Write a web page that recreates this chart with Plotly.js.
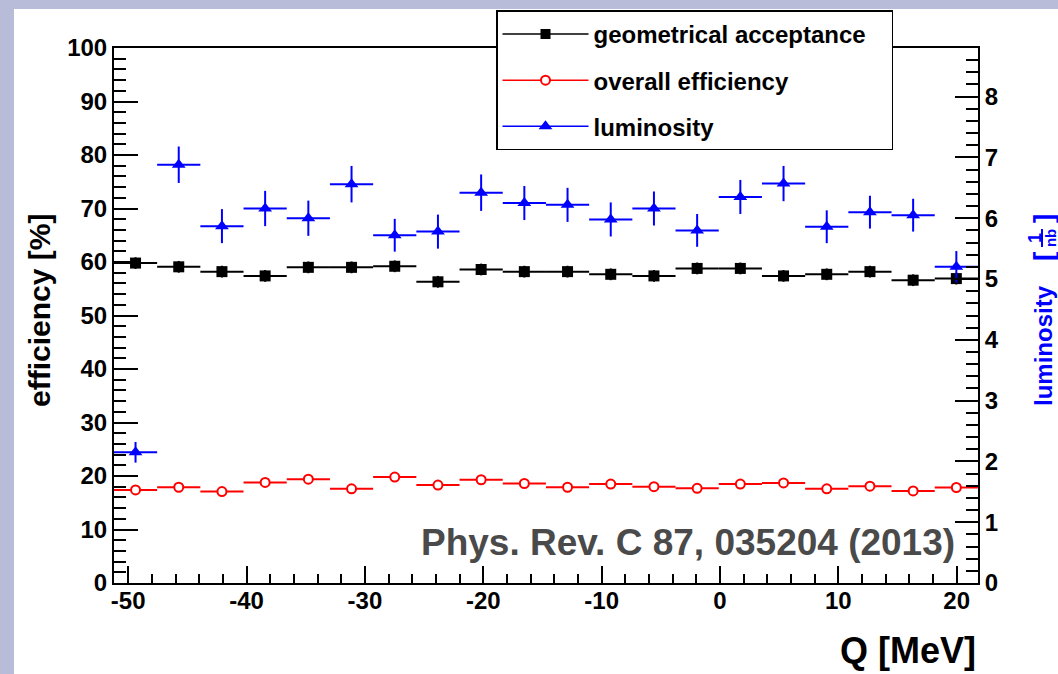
<!DOCTYPE html>
<html>
<head>
<meta charset="utf-8">
<script src="https://cdn.plot.ly/plotly-3.0.1.min.js"></script>
<style>
  html, body { margin: 0; padding: 0; background: #b9bcd9; width: 1058px; height: 674px; overflow: hidden; }
  #chart { position: absolute; left: 14px; top: 9px; width: 1044px; height: 665px; background: #ffffff; }
</style>
</head>
<body>
<div id="chart"></div>
<script>
// Bin centres of Q [MeV]
const Q = [-49.38, -45.73, -42.08, -38.43, -34.78, -31.13, -27.48, -23.83, -20.18, -16.53,
           -12.88, -9.23, -5.58, -1.93, 1.72, 5.37, 9.02, 12.67, 16.32, 19.97];
const binHalfWidth = 1.825;

// geometrical acceptance [%]
const acceptance = [59.8, 59.1, 58.2, 57.4, 59.0, 59.0, 59.2, 56.3, 58.6, 58.2,
                    58.2, 57.7, 57.4, 58.8, 58.8, 57.4, 57.7, 58.2, 56.6, 56.9];
const acceptanceErr = [1.1, 1.1, 1.1, 1.1, 1.1, 1.1, 1.1, 1.1, 1.1, 1.1,
                       1.1, 1.1, 1.1, 1.1, 1.1, 1.1, 1.1, 1.1, 1.1, 1.1];

// overall efficiency [%]
const efficiency = [17.4, 17.9, 17.1, 18.8, 19.4, 17.6, 19.8, 18.3, 19.3, 18.6,
                    17.9, 18.5, 18.0, 17.7, 18.5, 18.7, 17.6, 18.1, 17.2, 17.85];

// luminosity [1/nb]
const luminosity = [2.15, 6.88, 5.87, 6.16, 6.00, 6.56, 5.72, 5.78, 6.42, 6.25,
                    6.22, 5.98, 6.16, 5.80, 6.35, 6.57, 5.86, 6.10, 6.05, 5.20];
const luminosityErr = [0.17, 0.30, 0.28, 0.29, 0.29, 0.30, 0.27, 0.28, 0.30, 0.28,
                       0.28, 0.28, 0.28, 0.27, 0.28, 0.29, 0.27, 0.27, 0.27, 0.26];

// x tick labels (plain hyphen minus, as in the reference)
const xTickVals = [-50, -40, -30, -20, -10, 0, 10, 20];
const xTickText = ['-50', '-40', '-30', '-20', '-10', '0', '10', '20'];

const legendNames = ['geometrical acceptance', 'overall efficiency', 'luminosity'];

const FONT = 'Liberation Sans, Arial, Helvetica, sans-serif';
const BLACK = '#000000', RED = '#ff0000', BLUE = '#0000ff';
const PAD = '\u00a0\u00a0\u00a0';

const traces = [
  {
    x: Q, y: acceptance, type: 'scatter', mode: 'markers', showlegend: false,
    marker: { symbol: 'square', size: 11, color: BLACK },
    error_x: { type: 'constant', value: binHalfWidth, width: 0, thickness: 2, color: BLACK },
    error_y: { type: 'data', array: acceptanceErr, width: 0, thickness: 2, color: BLACK },
    xaxis: 'x', yaxis: 'y'
  },
  {
    x: Q, y: efficiency, type: 'scatter', mode: 'markers', showlegend: false,
    marker: { symbol: 'circle', size: 9, color: '#ffffff', line: { color: RED, width: 2 } },
    error_x: { type: 'constant', value: binHalfWidth, width: 0, thickness: 2, color: RED },
    xaxis: 'x', yaxis: 'y'
  },
  {
    x: Q, y: luminosity, type: 'scatter', mode: 'markers', showlegend: false,
    marker: { symbol: 'triangle-up', size: 12, color: BLUE },
    error_x: { type: 'constant', value: binHalfWidth, width: 0, thickness: 2, color: BLUE },
    error_y: { type: 'data', array: luminosityErr, width: 0, thickness: 2, color: BLUE },
    xaxis: 'x', yaxis: 'y2'
  },
  // legend entries
  { x: [null], y: [null], type: 'scatter', mode: 'lines+markers', name: legendNames[0] + PAD, legendgroup: 'a',
    line: { color: BLACK, width: 1.5 }, marker: { symbol: 'square', size: 10, color: BLACK } },
  { x: [null], y: [null], type: 'scatter', mode: 'lines+markers', name: legendNames[1], legendgroup: 'b',
    line: { color: RED, width: 1.5 }, marker: { symbol: 'circle', size: 9, color: '#ffffff', line: { color: RED, width: 2 } } },
  { x: [null], y: [null], type: 'scatter', mode: 'lines+markers', name: legendNames[2], legendgroup: 'c',
    line: { color: BLUE, width: 1.5 }, marker: { symbol: 'triangle-up', size: 12, color: BLUE } }
];

const tickFont = { family: FONT, size: 24, color: BLACK, weight: 'bold' };

function px2x(p) { return (p - 114) / 864; }
function py2y(p) { return (583.3 - p) / 535.6; }

const layout = {
  width: 1044, height: 665,
  margin: { l: 100, r: 80, t: 39, b: 91, pad: 0, autoexpand: false },
  paper_bgcolor: '#ffffff', plot_bgcolor: '#ffffff',
  showlegend: true,
  legend: {
    x: px2x(496), y: py2y(10), xanchor: 'left', yanchor: 'top',
    bgcolor: '#ffffff', bordercolor: BLACK, borderwidth: 1.5,
    font: { family: FONT, size: 24, color: BLACK, weight: 'bold' },
    tracegroupgap: 12, itemwidth: 86, traceorder: 'grouped'
  },
  xaxis: {
    range: [-51.2, 21.8], showgrid: false, zeroline: false,
    showline: true, linecolor: BLACK, linewidth: 2, mirror: true,
    ticks: 'inside', ticklen: 17, tickwidth: 2, tickcolor: BLACK,
    tickmode: 'array', tickvals: xTickVals, ticktext: xTickText,
    tickfont: tickFont, ticklabelstandoff: -5,
    minor: { ticks: 'inside', dtick: 2, ticklen: 9, tickwidth: 2, tickcolor: BLACK, showgrid: false }
  },
  yaxis: {
    range: [0, 100], showgrid: false, zeroline: false,
    showline: true, linecolor: BLACK, linewidth: 2, mirror: false,
    ticks: 'inside', ticklen: 24, tickwidth: 2, tickcolor: BLACK,
    tick0: 0, dtick: 10, tickfont: tickFont,
    minor: { ticks: 'inside', dtick: 2, ticklen: 12, tickwidth: 2, tickcolor: BLACK, showgrid: false }
  },
  yaxis2: {
    range: [0, 8.80], overlaying: 'y', side: 'right', showgrid: false, zeroline: false,
    showline: true, linecolor: BLACK, linewidth: 2,
    ticks: 'inside', ticklen: 23, tickwidth: 2, tickcolor: BLACK,
    tick0: 0, dtick: 1, tickfont: tickFont,
    minor: { ticks: 'inside', dtick: 0.2, ticklen: 12, tickwidth: 2, tickcolor: BLACK, showgrid: false }
  },
  annotations: [
    { text: 'efficiency [%]', xref: 'paper', yref: 'paper', x: px2x(39), y: py2y(311),
      xanchor: 'center', yanchor: 'middle', textangle: -90, showarrow: false,
      font: { family: FONT, size: 30, color: BLACK, weight: 'bold' } },
    { text: 'Q [MeV]', xref: 'paper', yref: 'paper', x: px2x(978), y: py2y(651),
      xanchor: 'right', yanchor: 'middle', showarrow: false,
      font: { family: FONT, size: 36, color: BLACK, weight: 'bold' } },
    { text: 'Phys. Rev. C 87, 035204 (2013)', xref: 'paper', yref: 'paper', x: px2x(957), y: py2y(543),
      xanchor: 'right', yanchor: 'middle', showarrow: false,
      font: { family: FONT, size: 37, color: '#4a4a4a', weight: 'bold' } },
    { text: 'luminosity', xref: 'paper', yref: 'paper', x: px2x(1044), y: py2y(346),
      xanchor: 'center', yanchor: 'middle', textangle: -90, showarrow: false,
      font: { family: FONT, size: 24, color: BLUE, weight: 'bold' } },
    { text: '[', xref: 'paper', yref: 'paper', x: px2x(1043), y: py2y(257),
      xanchor: 'center', yanchor: 'middle', textangle: -90, showarrow: false,
      font: { family: FONT, size: 28, color: BLUE, weight: 'bold' } },
    { text: ']', xref: 'paper', yref: 'paper', x: px2x(1043), y: py2y(219),
      xanchor: 'center', yanchor: 'middle', textangle: -90, showarrow: false,
      font: { family: FONT, size: 28, color: BLUE, weight: 'bold' } },
    { text: '1', xref: 'paper', yref: 'paper', x: px2x(1035), y: py2y(238),
      xanchor: 'center', yanchor: 'middle', textangle: -90, showarrow: false,
      font: { family: FONT, size: 18, color: BLUE, weight: 'bold' } },
    { text: 'nb', xref: 'paper', yref: 'paper', x: px2x(1050), y: py2y(238),
      xanchor: 'center', yanchor: 'middle', textangle: -90, showarrow: false,
      font: { family: FONT, size: 15, color: BLUE, weight: 'bold' } }
  ],
  shapes: [
    { type: 'line', xref: 'paper', yref: 'paper', x0: px2x(1042), x1: px2x(1042), y0: py2y(229), y1: py2y(247),
      line: { color: BLUE, width: 2 } }
  ]
};

Plotly.newPlot('chart', traces, layout, { displayModeBar: false, staticPlot: true });
</script>
</body>
</html>
